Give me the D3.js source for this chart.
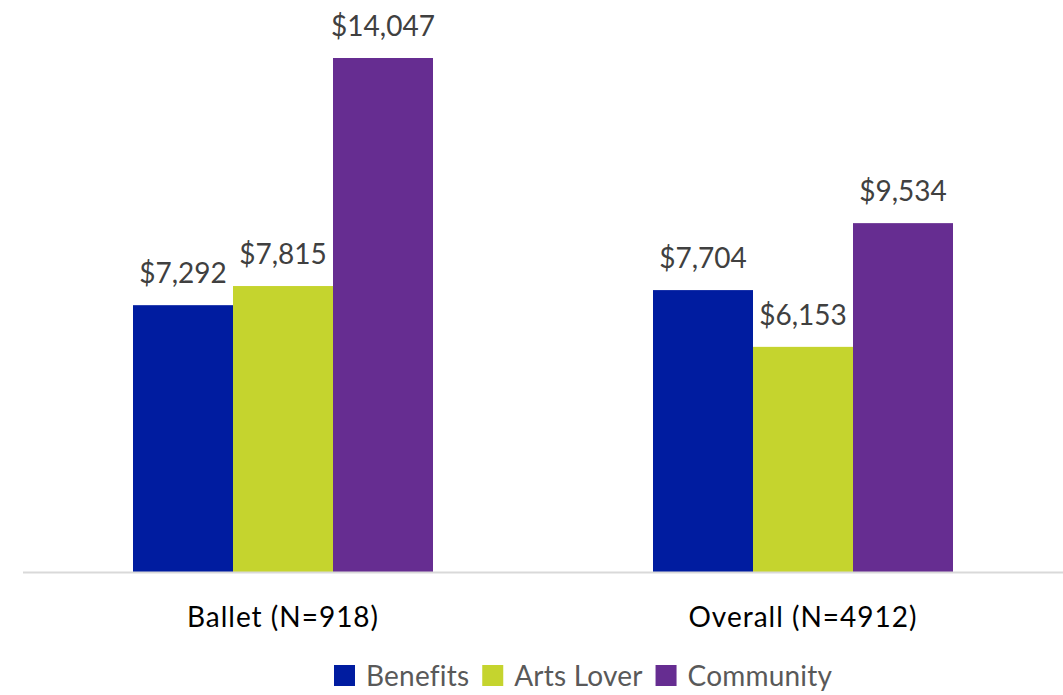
<!DOCTYPE html>
<html lang="en">
<head>
    <meta charset="UTF-8">
    <title>Giving by Segment</title>
    <script src="https://d3js.org/d3.v7.min.js"></script>
    <style>
        body{
            margin: 0;
            background: white;
            font-family: Lato, "Open Sans", sans-serif;
        }
        svg{
            display: block;
        }
    </style>
</head>
<body>
<svg></svg>
<script>
    const categories = ['Ballet (N=918)', 'Overall (N=4912)'];
    const seriesNames = ['Benefits', 'Arts Lover', 'Community'];
    const benefits = [7292, 7704];
    const artsLover = [7815, 6153];
    const community = [14047, 9534];

    const colors = ['#001ca0', '#c5d42e', '#662d91'];
    const width = 1063, height = 695;
    const svg = d3.select('svg').attr('width', width).attr('height', height);

    const rows = categories.map((c, i) => ({
        cat: c,
        vals: [benefits[i], artsLover[i], community[i]]
    }));

    /* category bands and bars inside each band */
    const x0 = d3.scaleBand().domain(categories).range([23, 1063]);
    const x1 = d3.scaleBand().domain(seriesNames).range([110, 410]);
    const y = d3.scaleLinear().domain([0, 14047]).range([572, 58]);

    const groups = svg.selectAll('g.cat').data(rows).enter().append('g')
        .attr('transform', d => `translate(${x0(d.cat)},0)`);

    groups.selectAll('rect')
        .data(d => d.vals.map((v, i) => ({ name: seriesNames[i], v, i })))
        .enter().append('rect')
        .attr('x', d => x1(d.name))
        .attr('width', x1.bandwidth())
        .attr('y', d => y(d.v))
        .attr('height', d => y(0) - y(d.v))
        .attr('fill', d => colors[d.i]);

    groups.selectAll('text.val')
        .data(d => d.vals.map((v, i) => ({ name: seriesNames[i], v })))
        .enter().append('text')
        .attr('class', 'val')
        .attr('x', d => x1(d.name) + x1.bandwidth() / 2)
        .attr('y', d => y(d.v) - 22)
        .attr('text-anchor', 'middle')
        .attr('font-size', 28)
        .attr('fill', '#404040')
        .text(d => '$' + d3.format(',')(d.v));

    /* axis baseline */
    svg.append('line')
        .attr('x1', 23).attr('x2', 1063)
        .attr('y1', y(0) + 0.5).attr('y2', y(0) + 0.5)
        .attr('stroke', '#d9d9d9').attr('stroke-width', 2);

    svg.selectAll('text.cat').data(categories).enter().append('text')
        .attr('class', 'cat')
        .attr('x', d => x0(d) + x0.bandwidth() / 2)
        .attr('y', 627)
        .attr('text-anchor', 'middle')
        .attr('font-size', 28)
        .attr('letter-spacing', 1)
        .attr('fill', '#000')
        .text(d => d);

    /* legend, laid out left to right */
    let lx = 334;
    seriesNames.forEach((name, i) => {
        const g = svg.append('g').attr('transform', `translate(${lx},665)`);
        g.append('rect')
            .attr('width', 21).attr('height', 21)
            .attr('fill', colors[i]);
        const t = g.append('text')
            .attr('x', 32).attr('y', 21)
            .attr('font-size', 28)
            .attr('letter-spacing', 0.2)
            .attr('fill', '#595959')
            .text(name);
        lx += 32 + t.node().getComputedTextLength() + 13;
    });
</script>
</body>
</html>
